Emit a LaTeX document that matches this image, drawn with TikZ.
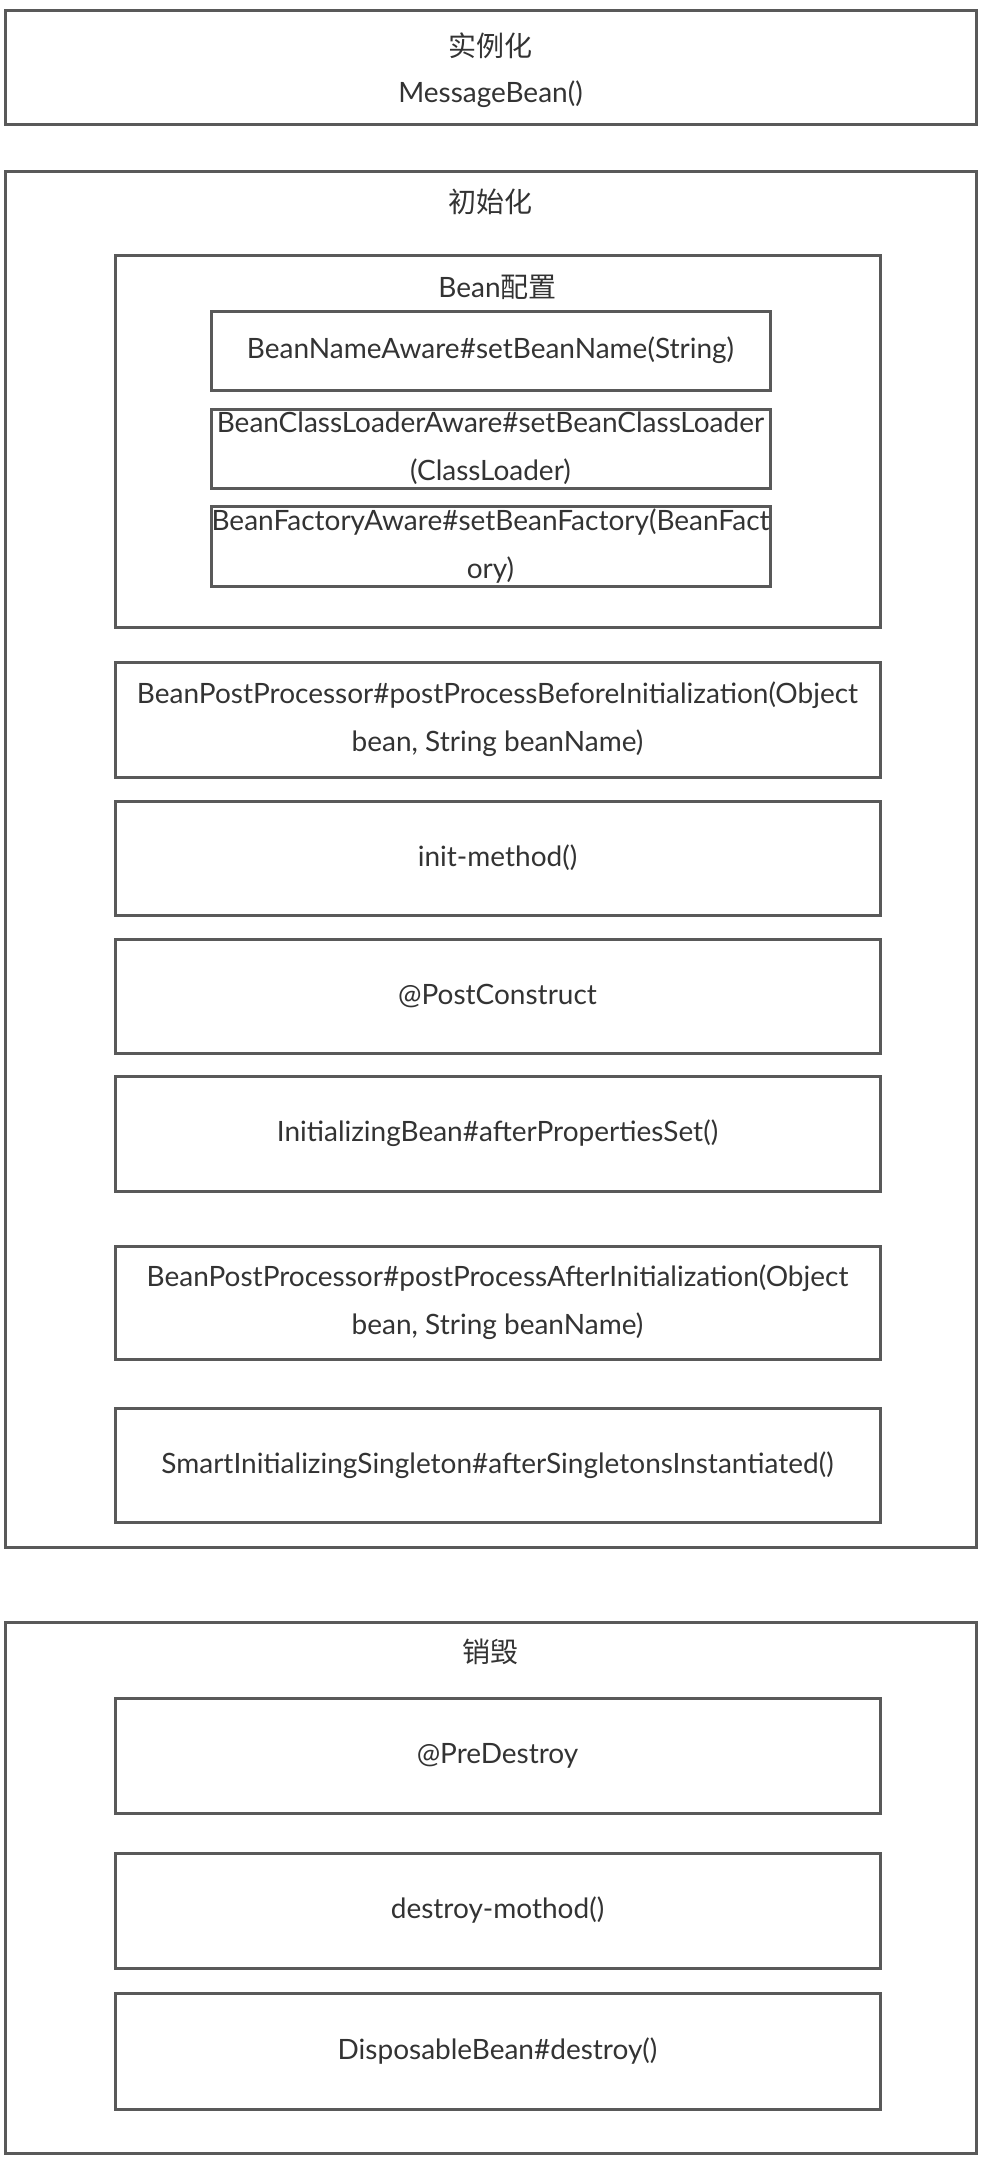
\documentclass[tikz,border=0pt]{standalone}
\usepackage{fontspec}
\setmainfont{Lato}
\newfontfamily\cjk{Noto Sans CJK SC}
\definecolor{linegray}{HTML}{595959}
\definecolor{textgray}{HTML}{333333}

\begin{document}
\begin{tikzpicture}[x=1pt, y=-1pt, thick,
    frame/.style = {draw=linegray, line width=3pt, inner sep=0pt},
    box/.style = {frame, minimum width=765pt, align=center, text=textgray,
                  font=\fontsize{28}{48}\selectfont},
    smallbox/.style = {box, minimum width=559pt},
    title/.style = {text=textgray, font=\fontsize{28}{48}\selectfont}]
      \useasboundingbox (0,0) rectangle (986,2162);

      % outer stages
      \node[frame, minimum width=971pt, minimum height=114pt] (inst) at (490.5,68) {};
      \node[frame, minimum width=971pt, minimum height=1375pt] (init) at (490.5,859.5) {};
      \node[frame, minimum width=971pt, minimum height=531pt] (dest) at (490.5,1887.5) {};

      \node[title] (t_inst) at (490.5,46) {\cjk 实例化};
      \node[title] (t_ctor) at (490.5,94) {MessageBean()};
      \node[title] (t_init) at (490.5,202) {\cjk 初始化};
      \node[title] (t_dest) at (490.5,1652) {\cjk 销毁};

      % bean config
      \node[box, minimum height=372pt] (cfg) at (497.5,441) {};
      \node[title] (t_cfg) at (497.5,287) {Bean{\cjk 配置}};
      \node[smallbox, minimum height=79pt] (n_1) at (490.5,350.5) {BeanNameAware\#setBeanName(String)};
      \node[smallbox, minimum height=79pt] (n_2) at (490.5,448.5) {BeanClassLoaderAware\#setBeanClassLoader\\(ClassLoader)};
      \node[smallbox, minimum height=80pt] (n_3) at (490.5,546) {BeanFactoryAware\#setBeanFactory(BeanFact\\ory)};

      % init steps
      \node[box, minimum height=115pt] (bpb) at (497.5,719.5) {BeanPostProcessor\#postProcessBeforeInitialization(Object\\bean, String beanName)};
      \node[box, minimum height=114pt] (im) at (497.5,858) {init-method()};
      \node[box, minimum height=114pt] (pc) at (497.5,996) {@PostConstruct};
      \node[box, minimum height=115pt] (ib) at (497.5,1133.5) {InitializingBean\#afterPropertiesSet()};
      \node[box, minimum height=113pt] (bpa) at (497.5,1302.5) {BeanPostProcessor\#postProcessAfterInitialization(Object\\bean, String beanName)};
      \node[box, minimum height=114pt] (sis) at (497.5,1465) {SmartInitializingSingleton\#afterSingletonsInstantiated()};

      % destroy steps
      \node[box, minimum height=115pt] (pd) at (497.5,1755.5) {@PreDestroy};
      \node[box, minimum height=115pt] (dm) at (497.5,1910.5) {destroy-mothod()};
      \node[box, minimum height=116pt] (db) at (497.5,2051) {DisposableBean\#destroy()};
    \end{tikzpicture}
\end{document}
